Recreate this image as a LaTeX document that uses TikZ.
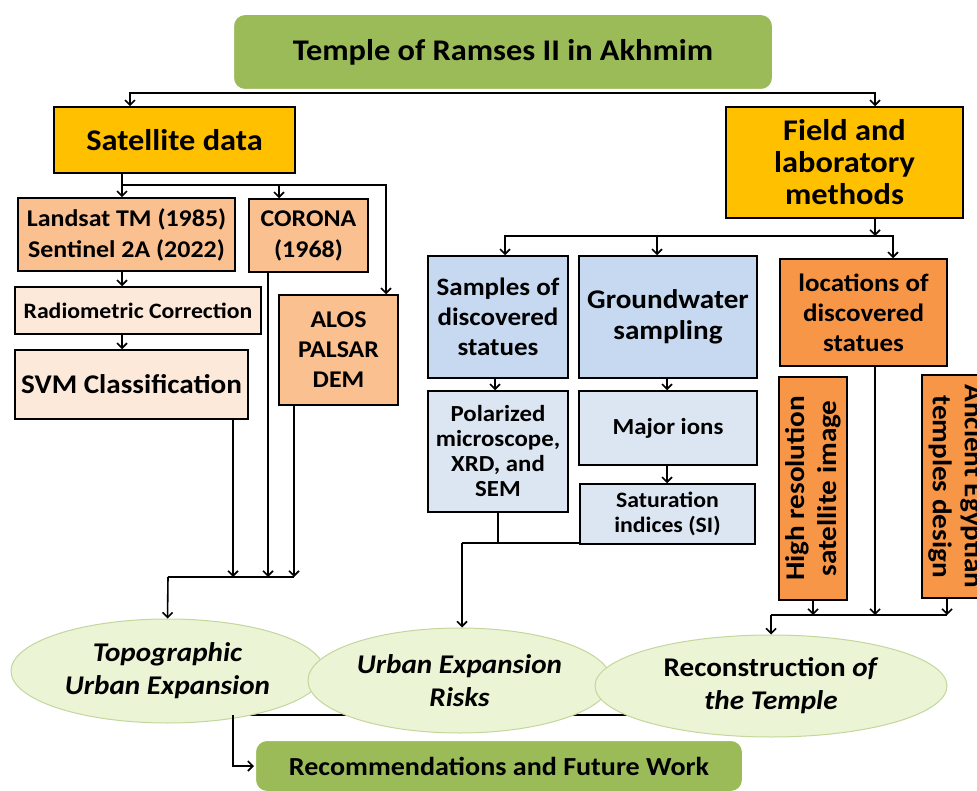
\documentclass[tikz,border=0pt]{standalone}
\usepackage{fontspec}
\setmainfont[FakeStretch=1.08]{Carlito}
\usepackage{tikz}
\usetikzlibrary{positioning}
\usetikzlibrary{calc}
\usetikzlibrary{arrows.meta}
\usetikzlibrary{shapes.geometric}
\usetikzlibrary{backgrounds}

\definecolor{titlegreen}{HTML}{9BBB59}
\definecolor{satgold}{HTML}{FFC000}
\definecolor{peach}{HTML}{FAC090}
\definecolor{palepeach}{HTML}{FDE9D9}
\definecolor{labblue}{HTML}{C6D9F1}
\definecolor{paleblue}{HTML}{DCE6F2}
\definecolor{deeporange}{HTML}{F79646}
\definecolor{ovalfill}{HTML}{EBF4D5}
\definecolor{ovalrim}{HTML}{C3D69B}

\newcommand{\boxfont}[2]{\fontsize{#1}{#2}\selectfont\bfseries}

\begin{document}
\begin{tikzpicture}[x=1pt, y=-1pt,
			wire/.style={line width=1.6pt},
			>={Straight Barb[length=5pt,width=10pt]},
			boxnode/.style={draw=black, line width=1.5pt, align=center, inner sep=2pt},
			titlenode/.style={rounded corners=12pt, fill=titlegreen, draw=white, line width=2pt, align=center},
			ovalnode/.style={ellipse, fill=ovalfill, draw=ovalrim, line width=1pt, align=center, inner sep=0pt}
			]
			\useasboundingbox (0,0) rectangle (977,791);
			
			% top
			\node[titlenode, minimum width=540pt, minimum height=76pt, font=\boxfont{30}{36}] at (503,52) (title) {Temple of Ramses II in Akhmim};
			\node[boxnode, fill=satgold, minimum width=241pt, minimum height=66pt, font=\boxfont{30}{36}] at (174.5,140) (sat) {Satellite data};
			\node[boxnode, fill=satgold, minimum width=237pt, minimum height=111pt, font=\boxfont{30}{32}] at (844.5,162.5) (field) {Field and\\laboratory\\methods};
			
			% satellite column
			\node[boxnode, fill=peach, minimum width=217pt, minimum height=73pt, font=\boxfont{24}{31}] at (126.5,234.5) (landsat) {Landsat TM (1985)\\Sentinel 2A (2022)};
			\node[boxnode, fill=peach, minimum width=119pt, minimum height=73pt, font=\boxfont{24}{31}] at (308.5,235.5) (corona) {CORONA\\(1968)};
			\node[boxnode, fill=palepeach, minimum width=246pt, minimum height=47pt, font=\boxfont{22}{25}] at (138,310.5) (radio) {Radiometric Correction};
			\node[boxnode, fill=palepeach, minimum width=233pt, minimum height=69pt, font=\boxfont{27}{32}] at (131.5,384.5) (svm) {SVM Classification};
			\node[boxnode, fill=peach, minimum width=119pt, minimum height=110pt, font=\boxfont{24}{30}] at (338.5,350) (alos) {ALOS\\PALSAR\\DEM};
			
			% lab column
			\node[boxnode, fill=labblue, minimum width=140pt, minimum height=122pt, font=\boxfont{25}{30}] at (498,317) (samples) {Samples of\\discovered\\statues};
			\node[boxnode, fill=labblue, minimum width=178pt, minimum height=122pt, font=\boxfont{27}{31}] at (668,317) (ground) {Groundwater\\sampling};
			\node[boxnode, fill=paleblue, minimum width=140pt, minimum height=121pt, font=\boxfont{23}{25}] at (498,451.5) (polar) {Polarized\\microscope,\\XRD, and\\SEM};
			\node[boxnode, fill=paleblue, minimum width=178pt, minimum height=74pt, font=\boxfont{23}{27}] at (668,428) (major) {Major ions};
			\node[boxnode, fill=paleblue, minimum width=175pt, minimum height=60pt, font=\boxfont{22}{25}] at (667.5,514) (satur) {Saturation\\indices (SI)};
			
			% field column
			\node[boxnode, fill=deeporange, minimum width=167pt, minimum height=107pt, font=\boxfont{25}{30}] at (863.5,312.5) (loc) {locations of\\discovered\\statues};
			\node[boxnode, fill=deeporange, rotate=90, minimum width=223pt, minimum height=68pt, font=\boxfont{27}{32}] at (813,488.5) (hires) {High resolution\\satellite image};
			\node[boxnode, fill=deeporange, rotate=-90, minimum width=223pt, minimum height=68pt, font=\boxfont{27}{32}] at (956,486.5) (ancient) {Ancient Egyptian\\temples design};
			
			% results
			\node[ovalnode, minimum width=313pt, minimum height=104pt, font=\boxfont{27}{33}\itshape] at (167.5,671) (e1) {Topographic\\Urban Expansion};
			\node[ovalnode, minimum width=303pt, minimum height=105pt, font=\boxfont{27}{33}\itshape] at (459.5,680.5) (e2) {Urban Expansion\\Risks};
			\node[ovalnode, minimum width=352pt, minimum height=102pt, font=\boxfont{27}{33}] at (771,686) (e3) {Reconstruction \textit{of}\\\textit{the Temple}};
			\node[titlenode, minimum width=488pt, minimum height=52pt, font=\boxfont{26}{30}] at (499,766) (rec) {Recommendations and Future Work};
			
			\coordinate (tj) at (503,93);
			\coordinate (sj) at (122,185);
			\coordinate (fj) at (875,236);
			\coordinate (lj) at (168,577);
			\coordinate (mj) at (462,543);
			\coordinate (rj) at (771,615);
			\coordinate (bj) at (233,715);
			\coordinate (bk) at (630,715);
			
			\draw[wire, ->] (tj) -| ([xshift=-44.5pt]sat.north);
			\draw[wire, ->] (tj) -| ([xshift=30.5pt]field.north);
			
			\draw[wire, ->] ([xshift=-52.5pt]sat.south) -- ([xshift=-4.5pt]landsat.north);
			\draw[wire, ->] (sj) -| ([xshift=-29.5pt]corona.north);
			\draw[wire, ->] (sj) -| ([xshift=47.5pt]alos.north);
			\draw[wire, ->] ([xshift=-4.5pt]landsat.south) -- ([xshift=-16pt]radio.north);
			\draw[wire, ->] ([xshift=-16pt]radio.south) -- ([xshift=-9.5pt]svm.north);
			
			\draw[wire, ->] ([xshift=101.5pt]svm.south) -- ([xshift=101.5pt]svm.south |- lj);
			\draw[wire, ->] ([xshift=-40.5pt]corona.south) -- ([xshift=-40.5pt]corona.south |- lj);
			\draw[wire, ->] ([xshift=-44.5pt]alos.south) -- ([xshift=-44.5pt]alos.south |- lj);
			\draw[wire] (lj) -- ([xshift=-44.5pt]alos.south |- lj);
			\draw[wire, ->] (lj) -- (e1.north);
			
			\draw[wire, ->] ([xshift=30.5pt]field.south) -- (fj);
			\draw[wire, ->] (fj) -| ([xshift=7pt]samples.north);
			\draw[wire, ->] (fj) -| ([xshift=-11pt]ground.north);
			\draw[wire, ->] (fj) -| ([xshift=29.5pt]loc.north);
			
			\draw[wire, ->] ([xshift=-3pt]samples.south) -- ([xshift=-3pt]polar.north);
			\draw[wire, ->] ([xshift=-1pt]ground.south) -- ([xshift=-1pt]major.north);
			\draw[wire, ->] ([xshift=-1pt]major.south) -- ([xshift=-0.5pt]satur.north);
			\draw[wire] (polar.south) -- (polar.south |- mj);
			\draw[wire] (mj) -- (mj -| satur.west);
			\draw[wire, ->] (mj) -- (mj |- e2.north);
			
			\draw[wire, ->] ([xshift=11.5pt]loc.south) -- ([xshift=11.5pt]loc.south |- rj);
			\draw[wire, ->] (hires.west) -- (hires.west |- rj);
			\draw[wire, ->] ([xshift=-9pt]ancient.east) -- ([xshift=-9pt]ancient.east |- rj);
			\draw[wire] (rj) -- ([xshift=-9pt]ancient.east |- rj);
			\draw[wire, ->] (rj) -- (e3.north);
			
			\begin{scope}[on background layer]
				\draw[wire] (bj) -- (bk);
			\end{scope}
			\draw[wire, ->] (bj) |- (rec.west);
		\end{tikzpicture}
\end{document}
